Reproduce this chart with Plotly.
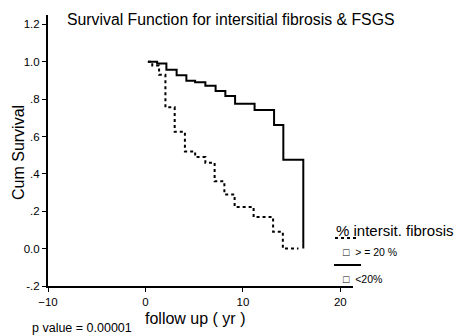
import plotly.graph_objects as go

# Kaplan-Meier steps
t_low = [0.25, 1.2, 2.15, 3.2, 4.2, 5.1, 6.15, 7.2, 8.2, 9.2, 11.2, 13.2, 14.15, 16.2]
s_low = [1.0, 0.99, 0.957, 0.927, 0.898, 0.89, 0.872, 0.843, 0.816, 0.775, 0.742, 0.662, 0.476, 0.0]

t_high = [0.25, 0.7, 1.4, 2.05, 3.0, 4.05, 5.1, 6.15, 7.1, 8.1, 9.15, 11.1, 13.1, 14.1, 15.7]
s_high = [1.0, 0.98, 0.93, 0.756, 0.625, 0.52, 0.49, 0.46, 0.36, 0.29, 0.223, 0.169, 0.09, 0.0, 0.0]

y_tickvals = [-0.2, 0.0, 0.2, 0.4, 0.6, 0.8, 1.0, 1.2]
y_ticktext = ["-.2", "0.0", ".2", ".4", ".6", ".8", "1.0", "1.2"]
x_tickvals = [-10, 0, 10, 20]

W, H = 458, 335
L, R, T, B = 48, 105, 15, 49
PW, PH = W - L - R, H - T - B

def px(x):
    return (x - L) / PW

def py(y):
    return (H - B - y) / PH

FONT = "Liberation Sans, Arial, sans-serif"

fig = go.Figure()
fig.add_trace(go.Scatter(x=t_high, y=s_high, mode="lines", line_shape="hv",
                         line=dict(color="black", width=2, dash="dot"),
                         name="> = 20 %", showlegend=False, hoverinfo="skip"))
fig.add_trace(go.Scatter(x=t_low, y=s_low, mode="lines", line_shape="hv",
                         line=dict(color="black", width=2),
                         name="<20%", showlegend=False, hoverinfo="skip"))

fig.update_layout(
    width=W, height=H,
    margin=dict(l=L, r=R, t=T, b=B),
    paper_bgcolor="white", plot_bgcolor="white",
    font=dict(family=FONT, color="black", size=11),
    xaxis=dict(range=[-10, 21.3], tickvals=x_tickvals, showgrid=False, zeroline=False,
               showline=True, linecolor="black", linewidth=2, ticks="outside",
               ticklen=4, tickcolor="black", tickfont=dict(size=11.5)),
    yaxis=dict(range=[-0.2, 1.25], tickvals=y_tickvals, ticktext=y_ticktext,
               showgrid=False, zeroline=False, showline=True, linecolor="black",
               linewidth=2, ticks="outside", ticklen=4, tickcolor="black",
               tickfont=dict(size=11.5)),
)

ann = [
    dict(text="Survival Function for intersitial fibrosis & FSGS", x=px(65), y=py(20),
         xanchor="left", yanchor="middle", font=dict(size=15.8)),
    dict(text="Cum Survival", x=px(18), y=py(153), textangle=-90,
         xanchor="center", yanchor="middle", font=dict(size=16)),
    dict(text="follow up ( yr )", x=px(195), y=py(318),
         xanchor="center", yanchor="middle", font=dict(size=16)),
    dict(text="p value = 0.00001", x=px(30), y=py(328),
         xanchor="left", yanchor="middle", font=dict(size=12.5)),
    dict(text="% intersit. fibrosis", x=px(334), y=py(230),
         xanchor="left", yanchor="middle", font=dict(size=15)),
    dict(text="\u25a1  > = 20 %", x=px(341), y=py(252),
         xanchor="left", yanchor="middle", font=dict(size=10.5)),
    dict(text="\u25a1  <20%", x=px(341), y=py(279),
         xanchor="left", yanchor="middle", font=dict(size=10.5)),
]
for a in ann:
    a.update(xref="paper", yref="paper", showarrow=False)
fig.update_layout(annotations=ann)

fig.add_shape(type="line", xref="paper", yref="paper", x0=px(335), x1=px(359),
              y0=py(238), y1=py(238), line=dict(color="black", width=2, dash="dot"))
fig.add_shape(type="line", xref="paper", yref="paper", x0=px(334), x1=px(361),
              y0=py(265), y1=py(265), line=dict(color="black", width=2))

fig.write_html("out.html", config={"displayModeBar": False},
               post_script="document.body.style.margin='0px';document.body.style.overflow='hidden';")
